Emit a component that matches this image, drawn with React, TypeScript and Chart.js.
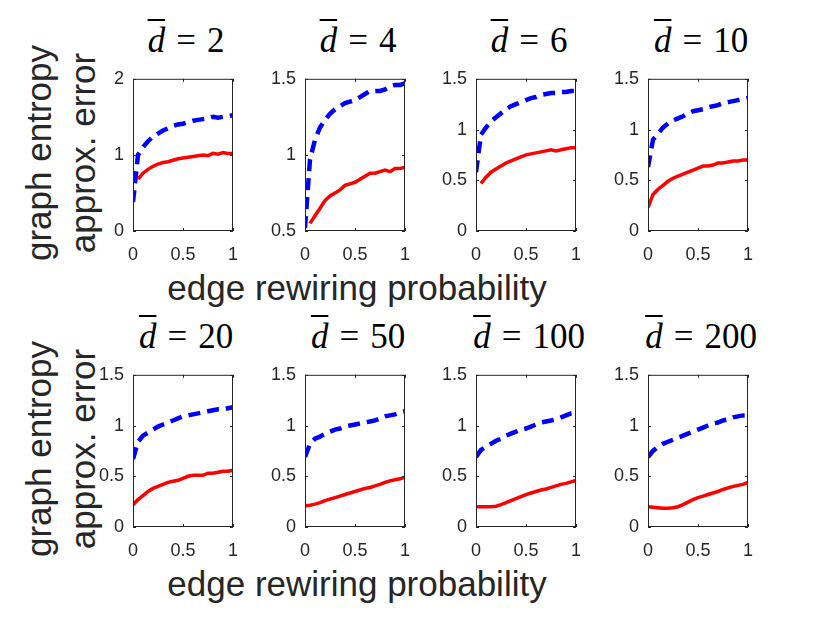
import React, { useEffect, useRef } from "react";
import { Chart, registerables } from "chart.js";

Chart.register(...registerables);

// rewiring probability grid
const probabilities = [0, 0.05, 0.1, 0.15, 0.2, 0.25, 0.3, 0.35, 0.4, 0.45, 0.5, 0.55, 0.6, 0.65, 0.7, 0.75, 0.8, 0.85, 0.9, 0.95, 1];
const xTicks = [0, 0.5, 1];

const degrees = ["2", "4", "6", "10", "20", "50", "100", "200"];

// y axis per panel
const yMins = [0, 0.5, 0, 0, 0, 0, 0, 0];
const yMaxs = [2, 1.5, 1.5, 1.5, 1.5, 1.5, 1.5, 1.5];
const yTicks = [
  [0, 1, 2],
  [0.5, 1, 1.5],
  [0, 0.5, 1, 1.5],
  [0, 0.5, 1, 1.5],
  [0, 0.5, 1, 1.5],
  [0, 0.5, 1, 1.5],
  [0, 0.5, 1, 1.5],
  [0, 0.5, 1, 1.5],
];

// blue dashed curves
const dashedD2 = [0.38, 1.0, 1.1, 1.18, 1.24, 1.28, 1.32, 1.35, 1.38, 1.4, 1.41, 1.43, 1.45, 1.46, 1.47, 1.48, 1.5, 1.49, 1.5, 1.51, 1.52];
const dashedD4 = [0.52, 0.97, 1.1, 1.18, 1.23, 1.27, 1.3, 1.32, 1.34, 1.35, 1.36, 1.38, 1.4, 1.42, 1.42, 1.42, 1.43, 1.45, 1.46, 1.46, 1.47];
const dashedD6 = [0.58, 0.95, 1.02, 1.08, 1.12, 1.16, 1.2, 1.23, 1.25, 1.27, 1.29, 1.31, 1.32, 1.34, 1.35, 1.36, 1.36, 1.37, 1.37, 1.38, 1.38];
const dashedD10 = [0.63, 0.9, 0.96, 1.02, 1.06, 1.09, 1.11, 1.13, 1.16, 1.18, 1.19, 1.2, 1.22, 1.23, 1.24, 1.26, 1.27, 1.28, 1.29, 1.3, 1.31];
const dashedD20 = [0.67, 0.84, 0.9, 0.93, 0.96, 0.99, 1.01, 1.03, 1.05, 1.07, 1.09, 1.1, 1.11, 1.12, 1.13, 1.14, 1.15, 1.16, 1.16, 1.17, 1.18];
const dashedD50 = [0.69, 0.82, 0.87, 0.89, 0.92, 0.94, 0.96, 0.97, 0.99, 1.0, 1.01, 1.02, 1.03, 1.04, 1.05, 1.07, 1.09, 1.1, 1.11, 1.13, 1.14];
const dashedD100 = [0.69, 0.76, 0.79, 0.82, 0.85, 0.87, 0.9, 0.92, 0.94, 0.96, 0.97, 0.99, 1.01, 1.03, 1.04, 1.05, 1.06, 1.08, 1.1, 1.12, 1.13];
const dashedD200 = [0.69, 0.75, 0.79, 0.82, 0.84, 0.86, 0.88, 0.9, 0.92, 0.94, 0.96, 0.98, 1.0, 1.02, 1.03, 1.05, 1.06, 1.08, 1.09, 1.1, 1.1];

// red solid curves
const solidD2 = [null, 0.68, 0.76, 0.81, 0.85, 0.88, 0.9, 0.91, 0.93, 0.95, 0.96, 0.97, 0.98, 0.99, 1.0, 0.99, 1.02, 1.01, 1.03, 1.02, 1.02];
const solidD4 = [null, 0.55, 0.6, 0.65, 0.7, 0.73, 0.75, 0.77, 0.8, 0.81, 0.82, 0.84, 0.86, 0.88, 0.88, 0.89, 0.9, 0.89, 0.91, 0.91, 0.92];
const solidD6 = [null, 0.47, 0.53, 0.58, 0.61, 0.64, 0.67, 0.69, 0.71, 0.73, 0.75, 0.76, 0.77, 0.78, 0.79, 0.8, 0.79, 0.8, 0.81, 0.82, 0.82];
const solidD10 = [0.23, 0.36, 0.41, 0.45, 0.49, 0.52, 0.54, 0.56, 0.58, 0.6, 0.62, 0.64, 0.64, 0.65, 0.67, 0.67, 0.68, 0.69, 0.69, 0.7, 0.7];
const solidD20 = [0.22, 0.27, 0.31, 0.35, 0.38, 0.4, 0.42, 0.44, 0.45, 0.46, 0.48, 0.5, 0.51, 0.51, 0.51, 0.53, 0.53, 0.54, 0.55, 0.55, 0.56];
const solidD50 = [0.21, 0.215, 0.225, 0.24, 0.26, 0.275, 0.29, 0.305, 0.32, 0.335, 0.35, 0.365, 0.38, 0.39, 0.405, 0.42, 0.44, 0.455, 0.465, 0.475, 0.49];
const solidD100 = [0.2, 0.2, 0.2, 0.2, 0.205, 0.22, 0.24, 0.26, 0.28, 0.3, 0.32, 0.335, 0.35, 0.365, 0.375, 0.39, 0.405, 0.42, 0.43, 0.445, 0.46];
const solidD200 = [0.2, 0.195, 0.19, 0.185, 0.185, 0.19, 0.2, 0.22, 0.245, 0.27, 0.29, 0.305, 0.32, 0.335, 0.35, 0.37, 0.385, 0.4, 0.41, 0.42, 0.44];

const dashedSeries = [dashedD2, dashedD4, dashedD6, dashedD10, dashedD20, dashedD50, dashedD100, dashedD200];
const solidSeries = [solidD2, solidD4, solidD6, solidD10, solidD20, solidD50, solidD100, solidD200];

// layout (page pixels)
const plotLefts = [133, 305, 476, 648];
const plotTops = [71, 367];
const PLOT_W = 106;
const PLOT_H = 160;
const PAD_L = 45;
const PAD_T = 12;
const PAD_R = 12;
const PAD_B = 35;

const INK = "#262626";
const SANS = "'Liberation Sans', Arial, Helvetica, sans-serif";
const SERIF = "'Liberation Serif', 'Times New Roman', serif";

// box around the plot area with inward tick marks on all four sides
const boxPlugin = {
  id: "matlabBox",
  afterDatasetsDraw(chart: any) {
    const { ctx, chartArea, scales } = chart;
    const { left, right, top, bottom } = chartArea;
    ctx.save();
    ctx.strokeStyle = INK;
    ctx.lineWidth = 1;
    ctx.strokeRect(left + 0.5, top + 0.5, right - left - 1, bottom - top - 1);
    ctx.beginPath();
    scales.x.ticks.forEach((t: any) => {
      const px = Math.round(scales.x.getPixelForValue(t.value)) + 0.5;
      ctx.moveTo(px, bottom);
      ctx.lineTo(px, bottom - 3);
      ctx.moveTo(px, top);
      ctx.lineTo(px, top + 3);
    });
    scales.y.ticks.forEach((t: any) => {
      const py = Math.round(scales.y.getPixelForValue(t.value)) + 0.5;
      ctx.moveTo(left, py);
      ctx.lineTo(left + 3, py);
      ctx.moveTo(right, py);
      ctx.lineTo(right - 3, py);
    });
    ctx.stroke();
    ctx.restore();
  },
};

const Panel = ({ idx }: { idx: number }) => {
  const canvasRef = useRef<HTMLCanvasElement>(null);
  const row = Math.floor(idx / 4);
  const col = idx % 4;
  const width = PAD_L + PLOT_W + PAD_R;
  const height = PAD_T + PLOT_H + PAD_B;

  useEffect(() => {
    if (!canvasRef.current) return;
    const toPoints = (vals: (number | null)[]) =>
      probabilities.map((p, i) => ({ x: p, y: vals[i] }));

    const chart = new Chart(canvasRef.current, {
      type: "line",
      data: {
        datasets: [
          {
            data: toPoints(solidSeries[idx]) as any,
            borderColor: "#ff0000",
            borderWidth: 3.5,
            pointRadius: 0,
            tension: 0,
          },
          {
            data: toPoints(dashedSeries[idx]) as any,
            borderColor: "#0000ff",
            borderWidth: 4.5,
            borderDash: [12, 7],
            pointRadius: 0,
            tension: 0,
          },
        ],
      },
      options: {
        responsive: false,
        animation: false,
        events: [],
        layout: { padding: { top: PAD_T, right: PAD_R, left: 0, bottom: 0 } },
        plugins: {
          legend: { display: false },
          tooltip: { enabled: false },
          title: { display: false },
        },
        scales: {
          x: {
            type: "linear",
            min: 0,
            max: 1,
            grid: { display: false, drawTicks: false },
            border: { display: false },
            afterBuildTicks: (s: any) => {
              s.ticks = xTicks.map((v) => ({ value: v }));
            },
            afterFit: (s: any) => {
              s.height = PAD_B;
            },
            ticks: {
              padding: 13,
              maxRotation: 0,
              color: INK,
              font: { family: SANS, size: 18 },
              callback: (v: any) => String(v),
            },
          },
          y: {
            type: "linear",
            min: yMins[idx],
            max: yMaxs[idx],
            grid: { display: false, drawTicks: false },
            border: { display: false },
            afterBuildTicks: (s: any) => {
              s.ticks = yTicks[idx].map((v) => ({ value: v }));
            },
            afterFit: (s: any) => {
              s.width = PAD_L;
            },
            ticks: {
              padding: 9,
              color: INK,
              font: { family: SANS, size: 18 },
              callback: (v: any) => String(v),
            },
          },
        },
      },
      plugins: [boxPlugin],
    });

    return () => {
      chart.destroy();
    };
  }, [idx]);

  return (
    <>
      <div
        style={{
          position: "absolute",
          left: plotLefts[col] - 40,
          width: PLOT_W + 80,
          top: plotTops[row] - 48,
          textAlign: "center",
          fontFamily: SERIF,
          fontSize: 35,
          lineHeight: "35px",
          color: "#000",
          whiteSpace: "nowrap",
        }}
      >
        <span
          style={{
            fontStyle: "italic",
            textDecoration: "overline",
            textDecorationThickness: "2px",
          }}
        >
          d
        </span>
        <span style={{ margin: "0 11px" }}>=</span>
        {degrees[idx]}
      </div>
      <canvas
        ref={canvasRef}
        width={width}
        height={height}
        style={{
          position: "absolute",
          left: plotLefts[col] - PAD_L,
          top: plotTops[row] - PAD_T,
          width,
          height,
        }}
      ></canvas>
    </>
  );
};

const RowLabels = ({ row }: { row: number }) => (
  <>
    {/* y label, two lines, rotated */}
    <div
      style={{
        position: "absolute",
        left: 61 - 150,
        top: plotTops[row] + 82 - 44,
        width: 300,
        height: 88,
        transform: "rotate(-90deg)",
        textAlign: "center",
        fontFamily: SANS,
        fontSize: 35,
        lineHeight: "44px",
        color: INK,
        whiteSpace: "nowrap",
      }}
    >
      graph entropy
      <br />
      approx. error
    </div>
    {/* x label */}
    <div
      style={{
        position: "absolute",
        left: 357 - 250,
        width: 500,
        top: plotTops[row] + 199,
        textAlign: "center",
        fontFamily: SANS,
        fontSize: 35,
        lineHeight: "35px",
        color: INK,
        whiteSpace: "nowrap",
      }}
    >
      edge rewiring probability
    </div>
  </>
);

const App = () => {
  return (
    <div
      style={{
        position: "absolute",
        left: 0,
        top: 0,
        width: 830,
        height: 623,
        background: "#fff",
        overflow: "hidden",
      }}
    >
      <RowLabels row={0} />
      <RowLabels row={1} />
      {degrees.map((_, i) => (
        <Panel key={i} idx={i} />
      ))}
    </div>
  );
};

export default App;
